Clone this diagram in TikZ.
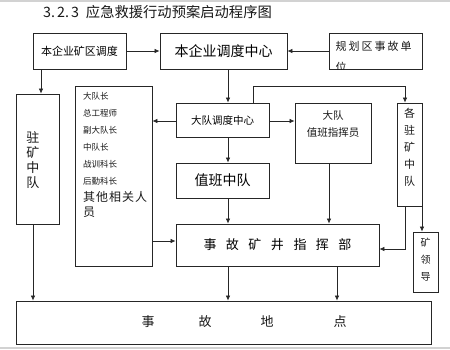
\documentclass[tikz,border=0pt]{standalone}
\usepackage{fontspec}
\setmainfont{Noto Sans CJK SC}
\usetikzlibrary{arrows.meta}
\begin{document}
\begin{tikzpicture}[x=1pt,y=-1pt,
  box/.style={draw=black!85,line width=0.8pt,rectangle,inner sep=0pt,fill=white},
  arr/.style={draw=black!85,line width=0.7pt,-{Latex[length=5pt,width=4.5pt]}},
  ln/.style={draw=black!85,line width=0.7pt},
  txt/.style={inner sep=0pt,text=black!90}]
\useasboundingbox (0,0) rectangle (450,349);
\draw[gray!35,line width=1.2pt] (0,1) -- (450,1);
\draw[gray!35,line width=1.2pt] (0,348) -- (450,348);
% title
\node[txt,anchor=west,font=\fontsize{14.3}{16}\selectfont] (title) at (43,12) {3.\hspace{2pt}2.\hspace{2pt}3\hspace{7pt}应急救援行动预案启动程序图};
% boxes
\node[box,minimum width=93,minimum height=36,font=\fontsize{11}{13}\selectfont] (kqdd) at (79.5,51) {本企业矿区调度};
\node[box,minimum width=127,minimum height=36,font=\fontsize{14}{16}\selectfont] (ddzx) at (223.5,51) {本企业调度中心};
\node[box,minimum width=93,minimum height=36] (ghq) at (375.5,51) {};
\begin{scope}
\clip (ghq.north west) rectangle (ghq.south east);
\node[txt,anchor=north west,align=left,font=\fontsize{11}{21}\selectfont] (ghqt) at (335.5,41.5) {规\hspace{2pt}划\hspace{2pt}区\hspace{2pt}事\hspace{2pt}故\hspace{2pt}单\\位};
\end{scope}
\node[box,minimum width=43,minimum height=130] (zkzd) at (37.5,159) {};
\node[txt,align=center,font=\fontsize{13}{15}\selectfont] (zkzdt) at (33,160) {驻\\矿\\中\\队};
\node[box,minimum width=77,minimum height=180] (ry) at (113.5,176) {};
\node[txt,anchor=north west,align=left,font=\fontsize{8.5}{17}\selectfont] (ryt) at (83,92) {大队长\\总工程师\\副大队长\\中队长\\战训科长\\后勤科长};
\node[txt,anchor=north west,align=left,font=\fontsize{12}{15}\selectfont] (ryt2) at (83,191) {其\hspace{1pt}他\hspace{1pt}相\hspace{1pt}关\hspace{1pt}人\\员};
\node[box,minimum width=93,minimum height=34,font=\fontsize{10.5}{12}\selectfont] (dddd) at (222.5,120) {大队调度中心};
\node[box,minimum width=76,minimum height=60] (zbzhy) at (333,133) {};
\node[txt,align=center,font=\fontsize{10.5}{17}\selectfont] (zbzhyt) at (333,124) {大队\\值班指挥员};
\node[box,minimum width=93,minimum height=35,font=\fontsize{14}{16}\selectfont] (zbzd) at (222.5,180.5) {值班中队};
\node[box,minimum width=25,minimum height=103] (gzk) at (409.5,154.5) {};
\node[txt,align=center,font=\fontsize{11}{17}\selectfont] (gzkt) at (409.5,147.5) {各\\驻\\矿\\中\\队};
\node[box,minimum width=203,minimum height=42,font=\fontsize{13}{15}\selectfont] (zhb) at (277.5,245) {事\hspace{9.5pt}故\hspace{9.5pt}矿\hspace{9.5pt}井\hspace{9.5pt}指\hspace{9.5pt}挥\hspace{9.5pt}部};
\node[box,minimum width=25,minimum height=60] (kld) at (425.5,262) {};
\node[txt,align=center,font=\fontsize{10}{17}\selectfont] (kldt) at (425.5,260) {矿\\领\\导};
\node[box,minimum width=415,minimum height=43] (sgdd) at (223.5,322.5) {};
\node[txt,anchor=west,font=\fontsize{13}{15}\selectfont] (sgddt) at (141.5,322) {事\hspace{44pt}故\hspace{49pt}地\hspace{60pt}点};
% connectors
\draw[arr] (kqdd) -- (ddzx);
\draw[arr] (ghq) -- (ddzx);
\draw[arr] (kqdd.south -| 41,0) -- (zkzd.north -| 41,0);
\draw[arr] (ddzx.south -| 228,0) -- (dddd.north -| 228,0);
\draw[arr] (dddd.west |- 0,121) -- (ry.east |- 0,121);
\draw[arr] (dddd.east |- 0,121) -- (zbzhy.west |- 0,121);
\draw[arr] (dddd.south -| 228,0) -- (zbzd.north -| 228,0);
\draw[arr] (zbzd.south -| 228,0) -- (zhb.north -| 228,0);
\draw[arr] (zbzhy.south -| 329,0) -- (zhb.north -| 329,0);
\draw[arr] (dddd.north -| 253,0) -- (253,86) -- (405,86) -- (gzk.north -| 405,0);
\draw[arr] (gzk.south -| 405,0) -- (405,249) -- (zhb.east |- 0,249);
\draw[arr] (gzk.south -| 422,0) -- (kld.north -| 422,0);
\draw[arr] (ry.east |- 0,241) -- (zhb.west |- 0,241);
\draw[arr] (zkzd.south -| 33,0) -- (sgdd.north -| 33,0);
\draw[arr] (zhb.south -| 228,0) -- (sgdd.north -| 228,0);
\draw[arr] (zhb.south -| 337,0) -- (sgdd.north -| 337,0);
\end{tikzpicture}
\end{document}
